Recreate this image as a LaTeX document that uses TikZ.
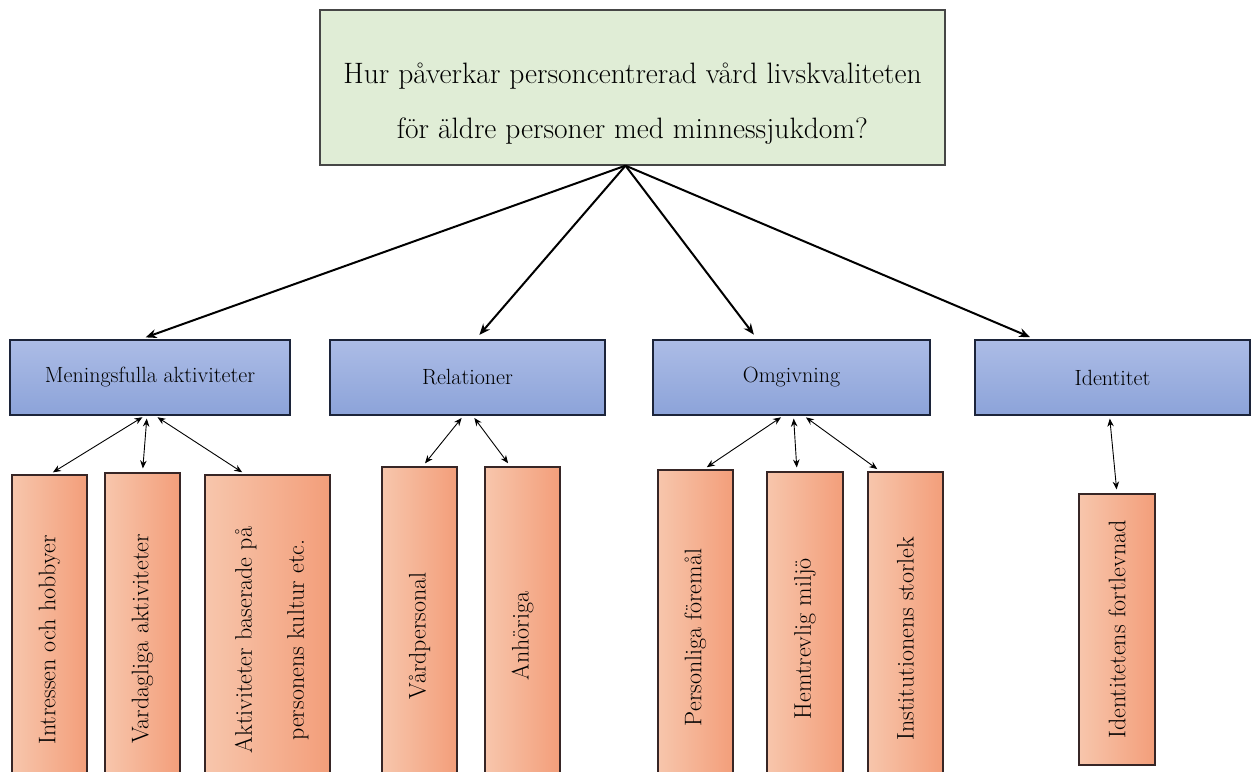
\documentclass[tikz,border=0pt]{standalone}
\usetikzlibrary{arrows.meta}
\definecolor{topgreen}{RGB}{224,237,214}
\definecolor{topline}{RGB}{70,70,70}
\definecolor{bluetop}{RGB}{172,188,230}
\definecolor{bluebot}{RGB}{140,163,217}
\definecolor{navyline}{RGB}{28,36,58}
\definecolor{orleft}{RGB}{247,198,172}
\definecolor{orright}{RGB}{243,158,122}
\definecolor{orline}{RGB}{55,38,38}
\begin{document}
\begin{tikzpicture}[x=1pt,y=-1pt,
  topbox/.style={draw=topline, line width=1.3pt, fill=topgreen, minimum width=625pt, minimum height=155pt, inner sep=0pt},
  toptext/.style={inner sep=0pt, align=center, font=\fontsize{29.5}{55}\selectfont},
  midbox/.style={draw=navyline, line width=1.2pt, top color=bluetop, bottom color=bluebot, minimum height=75pt, inner sep=0pt, font=\fontsize{22}{26}\selectfont},
  orbox/.style={draw=orline, line width=1.1pt, left color=orleft, right color=orright, inner sep=0pt, font=\fontsize{24}{52}\selectfont},
  bigarrow/.style={line width=2pt, -{Stealth[length=11pt,width=9pt]}, shorten >=6pt},
  smallarrow/.style={line width=0.9pt, {Stealth[length=8pt,width=6.5pt]}-{Stealth[length=8pt,width=6.5pt]}, shorten >=4pt, shorten <=3pt}
]
\useasboundingbox (0,0) rectangle (1257,771);
\clip (0,0) rectangle (1257,771);
\fill[white] (0,0) rectangle (1257,771);

\node[topbox] (top) at (632.5,87.5) {};
\node[toptext] (title) at (632.5,104) {Hur påverkar personcentrerad vård livskvaliteten\\för äldre personer med minnessjukdom?};

\node[midbox, minimum width=280pt] (m1) at (150,377.5) {Meningsfulla aktiviteter};
\node[midbox, minimum width=275pt] (m2) at (467.5,377.5) {Relationer};
\node[midbox, minimum width=277pt] (m3) at (791.5,377.5) {Omgivning};
\node[midbox, minimum width=275pt] (m4) at (1112.5,377.5) {Identitet};

\node[orbox, minimum width=75pt, minimum height=330pt] (o1) at (49.5,640) {\rotatebox{90}{Intressen och hobbyer}};
\node[orbox, minimum width=75pt, minimum height=332pt] (o2) at (142.5,639) {\rotatebox{90}{Vardagliga aktiviteter}};
\node[orbox, minimum width=125pt, minimum height=330pt] (o3) at (267.5,640) {\rotatebox{90}{\begin{tabular}{@{}c@{}}Aktiviteter baserade på\\personens kultur etc.\end{tabular}}};
\node[orbox, minimum width=75pt, minimum height=338pt] (o4) at (419.5,636) {\rotatebox{90}{Vårdpersonal}};
\node[orbox, minimum width=75pt, minimum height=338pt] (o5) at (522.5,636) {\rotatebox{90}{Anhöriga}};
\node[orbox, minimum width=75pt, minimum height=335pt] (o6) at (695.5,637.5) {\rotatebox{90}{Personliga föremål}};
\node[orbox, minimum width=76pt, minimum height=333pt] (o7) at (805,638.5) {\rotatebox{90}{Hemtrevlig miljö}};
\node[orbox, minimum width=75pt, minimum height=333pt] (o8) at (905.5,638.5) {\rotatebox{90}{Institutionens storlek}};
\node[orbox, minimum width=76pt, minimum height=271pt] (o9) at (1117,629.5) {\rotatebox{90}{Identitetens fortlevnad}};

\draw[bigarrow] ([xshift=-7pt]top.south) -- ([xshift=-10pt]m1.north);
\draw[bigarrow] ([xshift=-7pt]top.south) -- ([xshift=8pt]m2.north);
\draw[bigarrow] ([xshift=-7pt]top.south) -- ([xshift=-34pt]m3.north);
\draw[bigarrow] ([xshift=-7pt]top.south) -- ([xshift=-77pt]m4.north);

\draw[smallarrow] ([xshift=-5pt]m1.south) -- (o1.north);
\draw[smallarrow] ([xshift=-3pt]m1.south) -- (o2.north);
\draw[smallarrow] ([xshift=5pt]m1.south) -- ([xshift=-22pt]o3.north);
\draw[smallarrow] ([xshift=-4pt]m2.south) -- ([xshift=3pt]o4.north);
\draw[smallarrow] ([xshift=5pt]m2.south) -- ([xshift=-12pt]o5.north);
\draw[smallarrow] ([xshift=-8pt]m3.south) -- ([xshift=8pt]o6.north);
\draw[smallarrow] ([xshift=2pt]m3.south) -- ([xshift=-8pt]o7.north);
\draw[smallarrow] ([xshift=12pt]m3.south) -- ([xshift=-25pt]o8.north);
\draw[smallarrow] ([xshift=-3pt]m4.south) -- (o9.north);
\end{tikzpicture}
\end{document}
